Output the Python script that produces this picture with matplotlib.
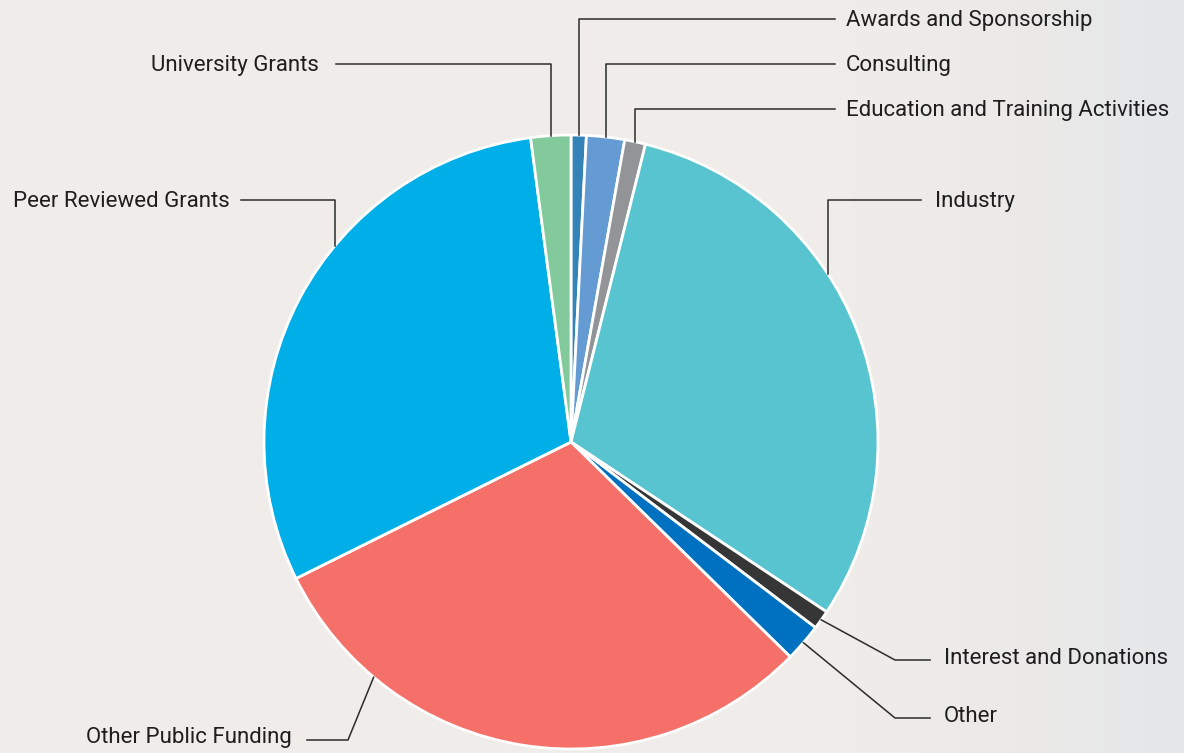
import matplotlib.pyplot as plt
import numpy as np

# funding shares (%), clockwise from 12 o'clock
labels = ["Awards and Sponsorship", "Consulting", "Education and Training Activities",
          "Industry", "Interest and Donations", "Other", "Other Public Funding",
          "Peer Reviewed Grants", "University Grants"]
values = [0.8, 2.0, 1.1, 30.4, 1.0, 2.0, 30.3, 30.2, 2.1]
colors = ["#3383b8", "#659bd3", "#929497", "#57c4cf", "#363636",
          "#0071c1", "#f47068", "#00aee8", "#82ca9c"]

W, H = 1184, 753
cx, cy, R = 571, H - 442, 307

fig = plt.figure(figsize=(W / 100, H / 100), dpi=100)
ax = fig.add_axes([0, 0, 1, 1])

# soft background, lighter/greyer towards the right
xs = np.linspace(0, 1, 300)
fade = np.clip((xs - 0.72) / 0.28, 0, 1) ** 1.5
base = np.array([239, 236, 233]) / 255
right = np.array([228, 230, 232]) / 255
grad = base[None, :] * (1 - fade[:, None]) + right[None, :] * fade[:, None]
ax.imshow(grad[None, :, :], extent=[0, W, 0, H], aspect="auto", zorder=0)

wedges, _ = ax.pie(values, colors=colors, startangle=90, counterclock=False,
                   center=(cx, cy), radius=R,
                   wedgeprops=dict(edgecolor="white", linewidth=2))
for w in wedges:
    w.set_zorder(2)

ax.set_xlim(0, W)
ax.set_ylim(0, H)
ax.set_aspect("equal")
ax.axis("off")


def edge_point(ang):
    # ang in degrees, matplotlib convention (ccw from +x)
    r = np.deg2rad(ang)
    return cx + R * np.cos(r), cy + R * np.sin(r)


def mid_angle(w):
    return (w.theta1 + w.theta2) / 2


def edge_at_x(x, top=True):
    dy = np.sqrt(R ** 2 - (x - cx) ** 2)
    return x, cy + dy if top else cy - dy


line_kw = dict(color="#2b2b2b", linewidth=1.1, zorder=3)
text_kw = dict(fontsize=16, color="#1e1e1e", va="center", family="Roboto", zorder=4)

# labels with a vertical-then-horizontal leader
elbows = [
    # index, label y (image px), line end x, text x, ha, attach x (None = wedge mid)
    (0, 19, 835, 846, "left", None),
    (1, 64, 835, 846, "left", None),
    (2, 109, 835, 846, "left", None),
    (3, 200, 921, 935, "left", 828),
    (7, 200, 241, 230, "right", 335),
    (8, 64, 336, 319, "right", None),
]
for i, ly, lx_end, tx, ha, ax_x in elbows:
    if ax_x is None:
        px, py = edge_point(mid_angle(wedges[i]))
    else:
        px, py = edge_at_x(ax_x)
    ly = H - ly
    ax.plot([px, px, lx_end], [py, ly, ly], **line_kw)
    ax.text(tx, ly - 1, labels[i], ha=ha, **text_kw)

# labels with a diagonal-then-horizontal leader
diags = [
    # index, attach angle (None = mid), knee x, label y, line end x, text x, ha
    (4, None, 895, 660, 930, 944, "left"),
    (5, None, 895, 718, 930, 944, "left"),
    (6, -130, 348, 740, 307, 292, "right"),
]
for i, ang, kx, ly, lx_end, tx, ha in diags:
    if ang is None:
        ang = mid_angle(wedges[i])
    px, py = edge_point(ang)
    ly = H - ly
    ax.plot([px, kx, lx_end], [py, ly, ly], **line_kw)
    ax.text(tx, ly + 2, labels[i], ha=ha, **text_kw)

fig.savefig("out.png", dpi=100)
